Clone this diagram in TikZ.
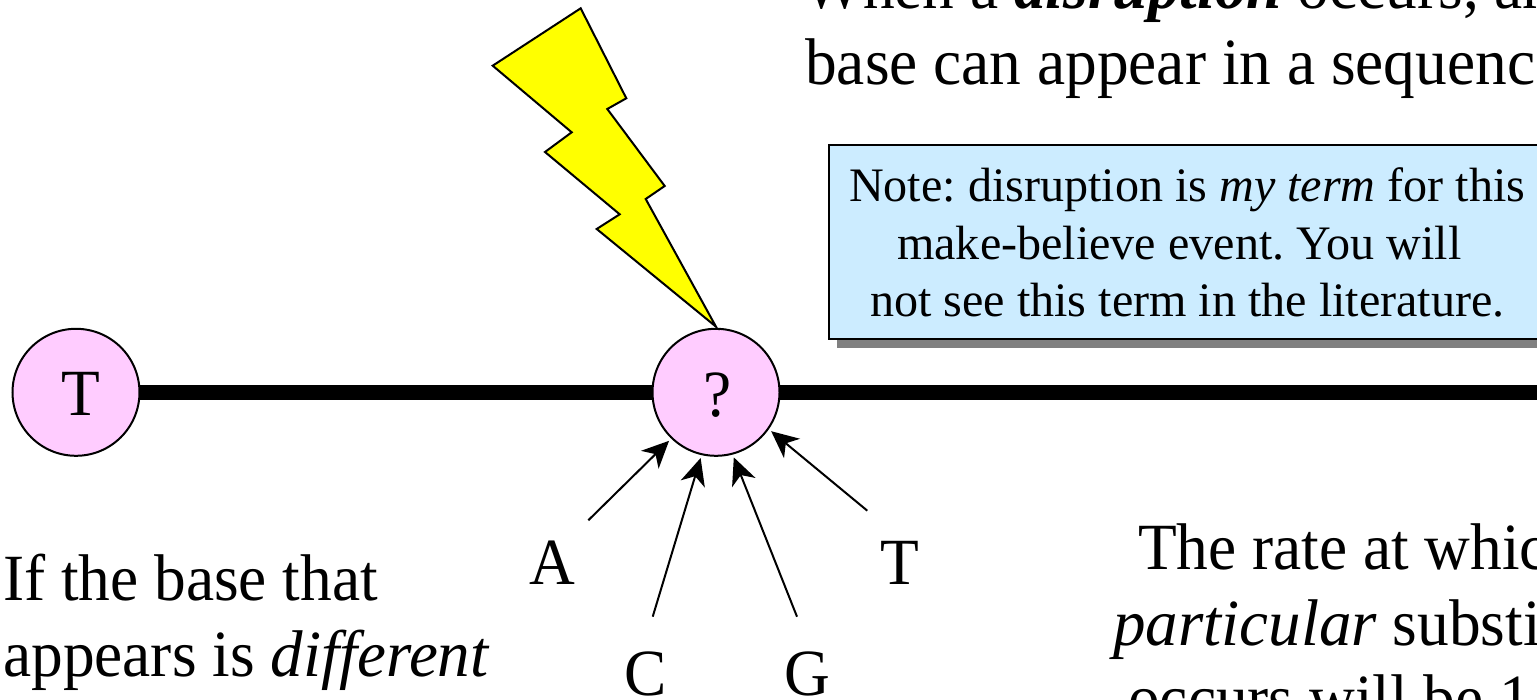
\documentclass[tikz,border=0pt]{standalone}
\usepackage{fontspec}
\setmainfont[FakeStretch=0.96,ItalicFeatures={FakeStretch=0.985}]{Liberation Serif}
\newfontfamily\notefont{Liberation Serif}
\frenchspacing
\usetikzlibrary{arrows.meta}
\definecolor{basepink}{HTML}{FFCCFF}
\definecolor{noteblue}{HTML}{CCECFF}
\definecolor{boltyellow}{HTML}{FFFF00}
\definecolor{shadowgray}{HTML}{808080}
\tikzset{
 x=1pt,y=-1pt,
 base/.style={circle,draw=black,line width=2pt,fill=basepink,minimum size=127pt,inner sep=0pt},
 baselabel/.style={anchor=base,inner sep=0pt,font=\fontsize{66}{70}\selectfont},
 big/.style={anchor=base west,inner sep=0pt,font=\fontsize{66}{70}\selectfont},
 letter/.style={anchor=base,inner sep=0pt,font=\fontsize{66}{70}\selectfont},
 notetext/.style={anchor=base west,inner sep=0pt,font=\notefont\fontsize{48.1}{50}\selectfont},
 strand/.style={line width=15.5pt,draw=black,shorten <=-1.5pt,shorten >=-1.5pt},
 pointer/.style={line width=2pt,-{Stealth[length=27pt,width=25pt,inset=8pt]},shorten >=3pt}
}
\begin{document}
\begin{tikzpicture}
\useasboundingbox (0,0) rectangle (1537,700);
\clip (0,0) rectangle (1537,700);
\fill[white] (0,0) rectangle (1537,700);
\node[base] (t1) at (76,392.3) {};
\node[base] (q) at (716,392.3) {};
\node[baselabel] (t1l) at (80.5,416) {T};
\node[baselabel] (ql) at (718,416.5) {?};
\coordinate (lineend) at (1560,392.3);
\draw[strand] (t1) -- (q);
\draw[strand] (q) -- (lineend);
\draw[fill=boltyellow,line width=2pt,line join=miter] (580.7,8.3) -- (626.3,98.3) -- (607.3,109) -- (664.7,186) -- (645.7,199) -- (716,326.7) -- (596.7,229) -- (619.7,214.3) -- (545,152) -- (571.7,132.3) -- (492.7,65.7) -- cycle;
\fill[shadowgray] (837,153) rectangle (1560,348);
\draw[fill=noteblue,line width=2pt] (829,145) rectangle (1560,339);
\node[notetext] (n1) at (849,202) {Note: disruption is \textit{my term} for this};
\node[notetext] (n2) at (897,260) {make-believe event. You will};
\node[notetext] (n3) at (870,317) {not see this term in the literature.};
\node[big] (w1) at (803,9) {When a \textbf{\textit{disruption}} occurs, any};
\node[big] (w2) at (805,85) {base can appear in a sequence};
\node[big] (l1) at (3,600) {If the base that};
\node[big] (l2) at (3,676) {appears is \textit{different}};
\node[big] (r1) at (1138,569) {The rate at which};
\node[big] (r2) at (1113,645) {\textit{particular} substitution};
\node[big] (r3) at (1128,720) {occurs will be 1};
\node[letter] (a) at (552,584) {A};
\node[letter] (c) at (646,695) {C};
\node[letter] (g) at (807,695) {G};
\node[letter] (tt) at (900,584) {T};
\coordinate (as) at (588.3,520.3);
\coordinate (cs) at (652.7,616.7);
\coordinate (gs) at (797,616.7);
\coordinate (ts) at (867.3,510.7);
\draw[pointer] (as) -- (q.226);
\draw[pointer] (cs) -- (q.257);
\draw[pointer] (gs) -- (q.285);
\draw[pointer] (ts) -- (q.325);
\end{tikzpicture}
\end{document}
